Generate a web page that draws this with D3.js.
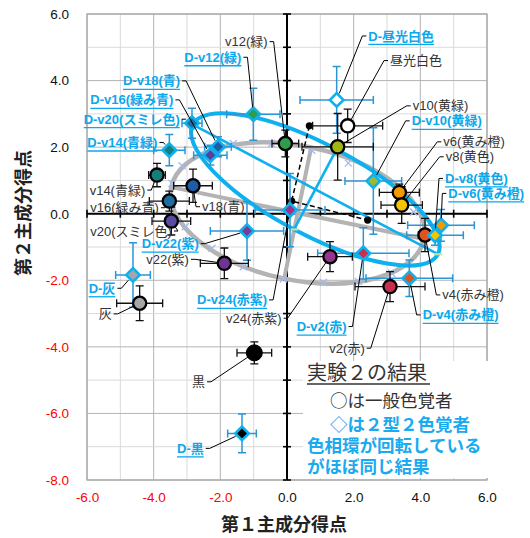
<!DOCTYPE html>
<html>
<head>
<meta charset="utf-8">
<script src="https://cdn.jsdelivr.net/npm/d3@7"></script>
<style>
  body { margin: 0; background: #fff; }
  svg text { font-family: "Liberation Sans", Arial, "Noto Sans CJK JP", sans-serif; }
  svg .jp { font-family: "Noto Sans CJK JP", sans-serif; }
</style>
</head>
<body>
<svg id="chart" width="530" height="538"></svg>
<script>
// ---- General observers (circles) ----
const genNames = ["v2(赤)", "v4(赤み橙)", "v6(黄み橙)", "v8(黄色)", "v10(黄緑)", "v12(緑)", "v14(青緑)",
  "v16(緑み青)", "v18(青)", "v20(スミレ色)", "v22(紫)", "v24(赤紫)", "昼光白色", "灰", "黒"];
const genX    = [3.09, 4.14, 3.37, 3.44, 1.52, -0.05, -3.90, -3.53, -2.82, -3.47, -1.88, 1.29, 1.82, -4.42, -0.98];
const genY    = [-2.19, -0.64, 0.64, 0.26, 2.01, 2.11, 1.16, 0.38, 0.84, -0.22, -1.49, -1.29, 2.64, -2.69, -4.18];
const genXErr = [1.05, 0.20, 0.60, 0.62, 1.07, 0.40, 0.25, 0.60, 0.58, 0.58, 0.72, 0.67, 1.05, 0.69, 0.52];
const genYErr = [0.45, 0.50, 0.25, 0.55, 1.00, 0.40, 0.35, 0.30, 0.50, 0.42, 0.46, 0.45, 0.50, 0.52, 0.33];

// ---- Type-2 dichromats (diamonds) ----
const dNames = ["D-v2(赤)", "D-v4(赤み橙)", "D-v6(黄み橙)", "D-v8(黄色)", "D-v10(黄緑)", "D-v12(緑)", "D-v14(青緑)",
  "D-v16(緑み青)", "D-v18(青)", "D-v20(スミレ色)", "D-v22(紫)", "D-v24(赤紫)", "D-昼光白色", "D-灰", "D-黒"];
const dX    = [2.29, 3.67, 4.62, 4.44, 2.59, -1.01, -3.53, -2.30, -2.07, -2.85, -1.20, 0.09, 1.49, -4.62, -1.35];
const dY    = [-1.19, -1.94, -0.35, -0.65, 0.98, 2.99, 1.91, 1.76, 2.01, 2.72, -0.52, 0.11, 3.42, -1.84, -6.60];
const dXErr = [1.37, 1.30, 1.00, 0.85, 0.85, 0.80, 0.47, 0.50, 0.40, 0.30, 1.10, 1.05, 1.10, 0.52, 0.43];
const dYErr = [0.77, 0.55, 0.48, 0.30, 1.60, 0.78, 0.47, 0.30, 0.30, 0.45, 0.88, 1.10, 1.00, 0.97, 0.58];

// ---- Fitted hue rings: centre, semi-axes, tilt (degrees) ----
const ringNames = ["一般色覚者", "2型2色覚者"];
const ringCX   = [0.32, 0.85];
const ringCY   = [0.02, 0.73];
const ringA    = [3.87, 4.16];
const ringB    = [2.01, 1.36];
const ringTilt = [-11.6, -27.9];

// model hue positions on the general ring
const ringMarkX = [-3.15, -3.45, -3.05, -2.25, -1.31, -0.11, 1.09, 2.14, 3.14, 3.80, 1.84, 0.74, -0.46, -1.61];
const ringMarkY = [1.44, 0.91, -0.39, -1.04, -1.59, -1.96, -2.07, -2.04, -1.79, 0.05, 1.52, 1.91, 2.11, 2.11];

// reference points joined by dashed lines
const refX = [0.67, 0.14, 2.42];
const refY = [2.64, 0.38, -0.19];

// axis ticks
const xTicks = [-6, -4, -2, 0, 2, 4, 6];
const yTicks = [-8, -6, -4, -2, 0, 2, 4, 6];

// ---- styles ----
const genFill = ["#c5304f", "#e2521f", "#f39a00", "#f7c400", "#a2b515", "#2e9d4c", "#15807b",
  "#1c6ea0", "#1f5ba7", "#5a4aa2", "#6f3595", "#973490", "#ffffff", "#a6a6a6", "#000000"];
const dFill = ["#c5304f", "#e2521f", "#f39a00", "#f7c400", "#9fba2a", "#2e9d4c", "#15807b",
  "#5a409d", "#1f5ba7", "#1c6ea0", "#7a3a97", "#9c2f8b", "#ffffff", "#a6a6a6", "#000000"];
const BLUE = "#0fb0ee";
const BLUE_ERR = "#2a96d8";
const BLUE_TXT = "#0aa8ec";
const GRAY_RING = "#b3b3b3";

// label anchor positions (data units, left edge / vertical centre)
const labelPos = {
  "v12(緑)": [-1.86, 5.17], "昼光白色": [3.09, 4.60], "v10(黄緑)": [3.77, 3.24],
  "v6(黄み橙)": [4.69, 2.16], "v8(黄色)": [4.76, 1.71], "v4(赤み橙)": [4.66, -2.44],
  "v2(赤)": [1.27, -4.04], "v24(赤紫)": [-1.83, -3.14], "v22(紫)": [-4.22, -1.37],
  "v20(スミレ色)": [-5.90, -0.52], "v16(緑み青)": [-5.90, 0.18], "v14(青緑)": [-5.92, 0.71],
  "v18(青)": [-2.55, 0.21], "灰": [-5.65, -3.01], "黒": [-2.85, -5.05],
  "D-昼光白色": [2.44, 5.34], "D-v12(緑)": [-3.08, 4.70], "D-v18(青)": [-4.92, 3.99],
  "D-v16(緑み青)": [-5.90, 3.42], "D-v20(スミレ色)": [-6.10, 2.84], "D-v14(青緑)": [-5.99, 2.14],
  "D-v10(黄緑)": [3.74, 2.79], "D-v8(黄色)": [4.74, 1.06], "D-v6(黄み橙)": [4.84, 0.61],
  "D-v4(赤み橙)": [4.07, -3.04], "D-v2(赤)": [0.29, -3.39], "D-v24(赤紫)": [-2.70, -2.59],
  "D-v22(紫)": [-4.36, -0.90], "D-灰": [-5.95, -2.24], "D-黒": [-3.30, -7.05]
};

// ---- layout ----
const svg = d3.select("#chart");
const plot = { left: 87, top: 14, right: 487, bottom: 480 };
const x = d3.scaleLinear().domain([-6, 6]).range([plot.left, plot.right]);
const y = d3.scaleLinear().domain([-8, 6]).range([plot.bottom, plot.top]);

// grid
const grid = svg.append("g");
d3.range(-6, 7).forEach(v => {
  grid.append("line").attr("x1", x(v)).attr("x2", x(v)).attr("y1", plot.top).attr("y2", plot.bottom)
    .attr("stroke", v % 2 === 0 ? "#b4b4b4" : "#dadada").attr("stroke-width", 1);
});
d3.range(-8, 7).forEach(v => {
  grid.append("line").attr("y1", y(v)).attr("y2", y(v)).attr("x1", plot.left).attr("x2", plot.right)
    .attr("stroke", v % 2 === 0 ? "#b4b4b4" : "#dadada").attr("stroke-width", 1);
});
svg.append("rect").attr("x", plot.left).attr("y", plot.top)
  .attr("width", plot.right - plot.left).attr("height", plot.bottom - plot.top)
  .attr("fill", "none").attr("stroke", "#a6a6a6").attr("stroke-width", 1.2);

// axes through the origin
const axes = svg.append("g");
axes.append("line").attr("x1", x(0)).attr("x2", x(0)).attr("y1", plot.top).attr("y2", plot.bottom)
  .attr("stroke", "#000").attr("stroke-width", 2);
axes.append("line").attr("y1", y(0)).attr("y2", y(0)).attr("x1", plot.left).attr("x2", plot.right)
  .attr("stroke", "#000").attr("stroke-width", 2);
d3.range(-8, 7).forEach(v => {
  axes.append("line").attr("x1", x(0) - 4).attr("x2", x(0) + 4).attr("y1", y(v)).attr("y2", y(v))
    .attr("stroke", "#000").attr("stroke-width", 1.6);
});
d3.range(-6, 7).forEach(v => {
  axes.append("line").attr("y1", y(0) - 4).attr("y2", y(0) + 4).attr("x1", x(v)).attr("x2", x(v))
    .attr("stroke", "#000").attr("stroke-width", 1.6);
});

// tick labels
const xAxis = svg.append("g").attr("transform", `translate(0,${plot.bottom})`)
  .call(d3.axisBottom(x).tickValues(xTicks).tickSize(0).tickPadding(12).tickFormat(d => d.toFixed(1)));
xAxis.select(".domain").remove();
xAxis.selectAll("text").attr("font-size", 13.5).attr("font-family", null)
  .attr("fill", d => d < 0 ? "#ff0000" : "#111");
const yAxis = svg.append("g").attr("transform", `translate(${plot.left},0)`)
  .call(d3.axisLeft(y).tickValues(yTicks).tickSize(0).tickPadding(18).tickFormat(d => d.toFixed(1)));
yAxis.select(".domain").remove();
yAxis.selectAll("text").attr("font-size", 13.5).attr("font-family", null)
  .attr("fill", d => d < 0 ? "#ff0000" : "#111");

// axis titles
svg.append("text").attr("class", "jp").attr("x", 284).attr("y", 525).attr("dy", "0.35em").attr("text-anchor", "middle")
  .attr("font-size", 18).attr("font-weight", "bold").attr("fill", "#222").text("第１主成分得点");
svg.append("text").attr("class", "jp").attr("transform", "translate(24,213) rotate(-90)").attr("dy", "0.35em")
  .attr("text-anchor", "middle").attr("font-size", 18).attr("font-weight", "bold").attr("fill", "#222")
  .text("第２主成分得点");

// ---- hue rings ----
const ringColor = [GRAY_RING, BLUE];
const ringWidth = [4.5, 4];
const axisWidth = [4, 2.6];
const rings = svg.append("g");
function ringGeom(i) {
  const t = ringTilt[i] * Math.PI / 180, c = Math.cos(t), s = Math.sin(t);
  return {
    major: [[ringCX[i] - ringA[i] * c, ringCY[i] - ringA[i] * s], [ringCX[i] + ringA[i] * c, ringCY[i] + ringA[i] * s]],
    minor: [[ringCX[i] + ringB[i] * s, ringCY[i] - ringB[i] * c], [ringCX[i] - ringB[i] * s, ringCY[i] + ringB[i] * c]]
  };
}
[0, 1].forEach(i => {
  const cx = x(ringCX[i]), cy = y(ringCY[i]);
  rings.append("ellipse").attr("cx", cx).attr("cy", cy)
    .attr("rx", x(ringA[i]) - x(0)).attr("ry", y(0) - y(ringB[i]))
    .attr("transform", `rotate(${-ringTilt[i]},${cx},${cy})`)
    .attr("fill", "none").attr("stroke", ringColor[i]).attr("stroke-width", ringWidth[i]);
  const g = ringGeom(i);
  [g.major, g.minor].forEach(seg => {
    rings.append("line").attr("x1", x(seg[0][0])).attr("y1", y(seg[0][1]))
      .attr("x2", x(seg[1][0])).attr("y2", y(seg[1][1]))
      .attr("stroke", ringColor[i]).attr("stroke-width", axisWidth[i]);
  });
});
// end marks on the dichromat ring axes
{
  const g = ringGeom(1);
  [...g.major, ...g.minor].forEach(p => {
    rings.append("line").attr("x1", x(p[0]) - 4).attr("x2", x(p[0]) + 4).attr("y1", y(p[1])).attr("y2", y(p[1]))
      .attr("stroke", "#c9dea0").attr("stroke-width", 2.2);
  });
}
// model hue marks
ringMarkX.forEach((mx, i) => {
  const px = x(mx), py = y(ringMarkY[i]);
  rings.append("path").attr("d", `M${px - 3.5},${py - 3.5}L${px + 3.5},${py + 3.5}M${px - 3.5},${py + 3.5}L${px + 3.5},${py - 3.5}`)
    .attr("stroke", "#a9b9e6").attr("stroke-width", 1.4).attr("fill", "none");
});

// dashed reference lines
const refG = svg.append("g");
refG.append("path")
  .attr("d", d3.line()(refX.map((v, i) => [x(v), y(refY[i])])))
  .attr("fill", "none").attr("stroke", "#000").attr("stroke-width", 1.5).attr("stroke-dasharray", "5,3");
refX.forEach((v, i) => refG.append("circle").attr("cx", x(v)).attr("cy", y(refY[i])).attr("r", 3.6).attr("fill", "#000"));

// ---- error bars ----
function errorBars(g, xs, ys, xe, ye, color, w) {
  xs.forEach((v, i) => {
    const px = x(v), py = y(ys[i]);
    const x1 = x(v - xe[i]), x2 = x(v + xe[i]), y1 = y(ys[i] + ye[i]), y2 = y(ys[i] - ye[i]);
    const d = `M${x1},${py}H${x2}M${x1},${py - 4}V${py + 4}M${x2},${py - 4}V${py + 4}` +
              `M${px},${y1}V${y2}M${px - 4},${y1}H${px + 4}M${px - 4},${y2}H${px + 4}`;
    g.append("path").attr("d", d).attr("stroke", color).attr("stroke-width", w).attr("fill", "none");
  });
}
const errG = svg.append("g");
errorBars(errG, dX, dY, dXErr, dYErr, BLUE_ERR, 1.5);
errorBars(errG, genX, genY, genXErr, genYErr, "#111", 1.3);

// ---- markers ----
const markG = svg.append("g");
genX.forEach((v, i) => {
  const big = genNames[i] === "黒";
  markG.append("circle").attr("cx", x(v)).attr("cy", y(genY[i])).attr("r", big ? 8 : 6.6)
    .attr("fill", genFill[i]).attr("stroke", "#000").attr("stroke-width", big ? 1 : 2.3);
});
const diamond = d3.symbol(d3.symbolSquare, 92)();
dX.forEach((v, i) => {
  markG.append("path").attr("d", diamond)
    .attr("transform", `translate(${x(v)},${y(dY[i])}) rotate(45)`)
    .attr("fill", dFill[i]).attr("stroke", BLUE).attr("stroke-width", 2.6);
});

// ---- labels with leader lines ----
const labG = svg.append("g");
function drawLabel(name, vx, vy, r, blue) {
  const [lx, ly] = labelPos[name];
  const tx = x(lx), ty = y(ly);
  const t = labG.append("text").attr("x", tx).attr("y", ty).attr("dy", "0.35em")
    .attr("font-size", 13).attr("font-weight", blue ? "bold" : "normal")
    .attr("fill", blue ? BLUE_TXT : "#333").text(name);
  const w = t.node().getComputedTextLength();
  if (blue) {
    labG.append("line").attr("x1", tx).attr("x2", tx + w).attr("y1", ty + 8.5).attr("y2", ty + 8.5)
      .attr("stroke", BLUE_TXT).attr("stroke-width", 1.3);
  }
  const px = x(vx), py = y(vy);
  const right = px > tx + w / 2;
  const sx = right ? tx + w + 2 : tx - 2;
  const ex = right ? sx + 4 : sx - 4;
  const dx = px - ex, dy = py - ty, len = Math.hypot(dx, dy);
  const endX = px - dx / len * r, endY = py - dy / len * r;
  labG.append("path").attr("d", `M${sx},${ty}L${ex},${ty}L${endX},${endY}`)
    .attr("fill", "none").attr("stroke", "#000").attr("stroke-width", 1);
}
genNames.forEach((n, i) => drawLabel(n, genX[i], genY[i], 7, false));
dNames.forEach((n, i) => drawLabel(n, dX[i], dY[i], 7, true));

// ---- note box ----
const note = svg.append("g");
note.append("rect").attr("x", 303).attr("y", 361).attr("width", 185).attr("height", 117).attr("fill", "#fff");
note.append("text").attr("x", 307).attr("y", 373).attr("dy", "0.35em").attr("font-size", 20)
  .attr("fill", "#333").text("実験２の結果");
note.append("line").attr("x1", 307).attr("x2", 430).attr("y1", 384).attr("y2", 384)
  .attr("stroke", "#333").attr("stroke-width", 1.4);
const l1 = note.append("text").attr("x", 330).attr("y", 401).attr("dy", "0.35em").attr("font-size", 17.5)
  .attr("fill", "#333");
l1.append("tspan").attr("class", "jp").text("○");
l1.append("tspan").text("は一般色覚者");
[["◇は２型２色覚者", 330, 425], ["色相環が回転している", 307, 446], ["がほぼ同じ結果", 307, 467]]
  .forEach(([s, tx, ty]) => {
    note.append("text").attr("x", tx).attr("y", ty).attr("dy", "0.35em").attr("font-size", 17.5)
      .attr("font-weight", "bold").attr("fill", "#1aaaf0").text(s);
  });
</script>
</body>
</html>
